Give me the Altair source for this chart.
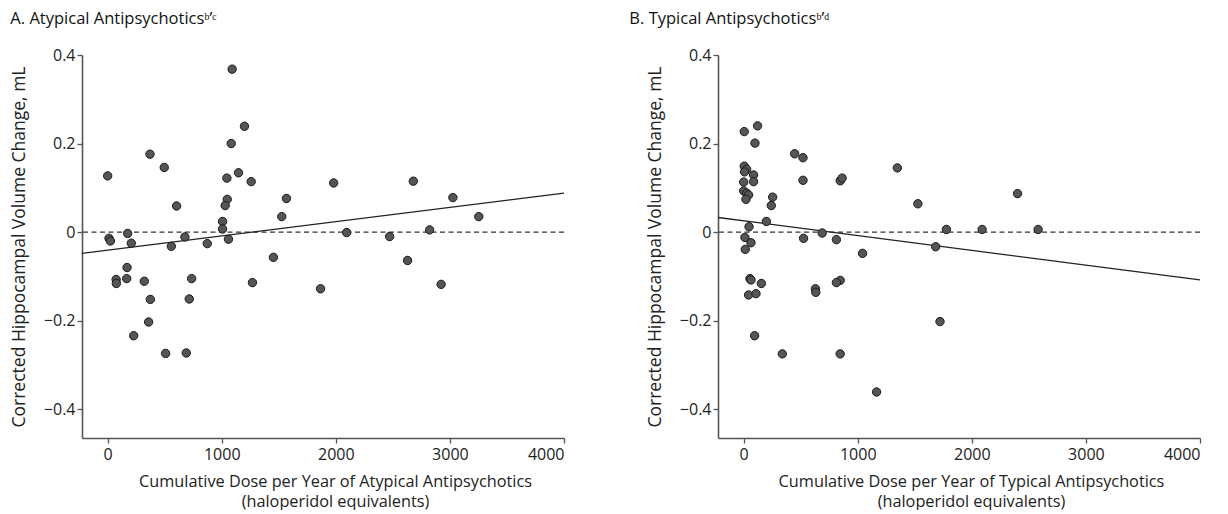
import altair as alt
import pandas as pd

# Panel A: atypical antipsychotics
a_dose = [0, 1091, 1199, 1083, 371, 496, 1045, 1147, 1258, 604, 1048, 1030, 1007, 1007,
          1567, 1526, 12, 24, 175, 207, 677, 873, 1059, 558, 170, 74, 76, 167, 321, 374,
          359, 228, 508, 689, 736, 715, 1269, 1453, 1866, 1981, 2679, 3026, 3253, 2095,
          2472, 2822, 2629, 2923]
a_change = [0.127, 0.368, 0.239, 0.200, 0.176, 0.146, 0.122, 0.134, 0.114, 0.059, 0.074,
            0.060, 0.024, 0.007, 0.076, 0.035, -0.014, -0.020, -0.003, -0.025, -0.011,
            -0.026, -0.016, -0.032, -0.080, -0.107, -0.116, -0.105, -0.111, -0.152, -0.203,
            -0.234, -0.274, -0.273, -0.105, -0.151, -0.114, -0.057, -0.128, 0.111, 0.115,
            0.078, 0.035, -0.001, -0.010, 0.005, -0.064, -0.118]
a_fit_x = [-225, 4000]
a_fit_y = [-0.048, 0.088]

# Panel B: typical antipsychotics
b_dose = [5, 122, 99, 447, 520, 5, 26, 8, 87, 87, 0, 520, 0, 26, 43, 20, 254, 242, 199, 47,
          11, 64, 14, 525, 55, 64, 155, 43, 108, 846, 863, 1347, 688, 813, 1042, 629, 632,
          846, 813, 96, 339, 846, 1165, 1527, 2401, 1777, 2090, 2581, 1683, 1721]
b_change = [0.227, 0.240, 0.201, 0.177, 0.168, 0.149, 0.142, 0.136, 0.129, 0.114, 0.113,
            0.117, 0.093, 0.088, 0.084, 0.074, 0.079, 0.060, 0.024, 0.012, -0.012, -0.024,
            -0.039, -0.014, -0.105, -0.108, -0.116, -0.142, -0.139, 0.116, 0.122, 0.145,
            -0.002, -0.017, -0.048, -0.128, -0.136, -0.109, -0.114, -0.234, -0.275, -0.275,
            -0.361, 0.064, 0.087, 0.006, 0.006, 0.006, -0.033, -0.202]
b_fit_x = [-225, 4000]
b_fit_y = [0.033, -0.108]

x_ticks = [0, 1000, 2000, 3000, 4000]
y_ticks = [-0.4, -0.2, 0, 0.2, 0.4]

FONT = "Open Sans"
Y_TITLE = "Corrected Hippocampal Volume Change, mL"


def panel(dose, change, fx, fy, title, xtitle, title_dx):
    pts = pd.DataFrame({"dose": dose, "change": change})
    fit = pd.DataFrame({"dose": fx, "change": fy})
    xs = alt.Scale(domain=[-225, 4000], nice=False, zero=False)
    ys = alt.Scale(domain=[-0.465, 0.4], nice=False, zero=False)
    xax = alt.Axis(values=x_ticks, title=xtitle, grid=False, titleX=253,
                   titlePadding=11, labelPadding=3, format="d", titleFontSize=16.3,
                   titleLineHeight=20, titleBaseline="top")
    yax = alt.Axis(values=y_ticks, title=Y_TITLE, grid=False, titlePadding=15,
                   labelPadding=2, titleFontSize=17.5,
                   labelExpr="datum.value == 0 ? '0' : replace(format(datum.value, '.1f'), '-', '\u2212')")
    base_x = alt.X("dose:Q", scale=xs, axis=xax)
    base_y = alt.Y("change:Q", scale=ys, axis=yax)
    zero = alt.Chart(pd.DataFrame({"z": [0]})).mark_rule(
        color="#333", strokeDash=[5, 3.5], strokeWidth=1.2
    ).encode(y=alt.Y("z:Q", scale=ys, axis=yax))
    line = alt.Chart(fit).mark_line(color="#222", strokeWidth=1.3).encode(x=base_x, y=base_y)
    dots = alt.Chart(pts).mark_point(
        filled=True, shape="circle", size=70, fill="#555", stroke="#1a1a1a",
        strokeWidth=1, opacity=1
    ).encode(x=base_x, y=base_y)
    return alt.layer(zero, line, dots).properties(
        width=482, height=383,
        title=alt.TitleParams(title, anchor="start", font=FONT, fontSize=16.5,
                              fontWeight="normal", color="#111", offset=20, dx=title_dx),
    )


pa = panel(a_dose, a_change, a_fit_x, a_fit_y, "A. Atypical Antipsychotics\u1d47\u02bc\u1d9c",
           ["Cumulative Dose per Year of Atypical Antipsychotics", "(haloperidol equivalents)"], 0)
pb = panel(b_dose, b_change, b_fit_x, b_fit_y, "B. Typical Antipsychotics\u1d47\u02bc\u1d48",
           ["Cumulative Dose per Year of Typical Antipsychotics", "(haloperidol equivalents)"], -17)

chart = alt.hconcat(
    pa, pb, spacing=62, padding={"left": 2, "top": 2, "right": 5, "bottom": 0}
).configure_view(strokeWidth=0).configure_axis(
    labelFont=FONT, titleFont=FONT, labelFontSize=16,
    titleFontWeight="normal", labelColor="#222", titleColor="#222",
    domainColor="#555", tickColor="#555", domainWidth=1.6, tickWidth=1.3, tickSize=5,
)

chart.save("out.html", embed_options={"renderer": "svg", "actions": False})
